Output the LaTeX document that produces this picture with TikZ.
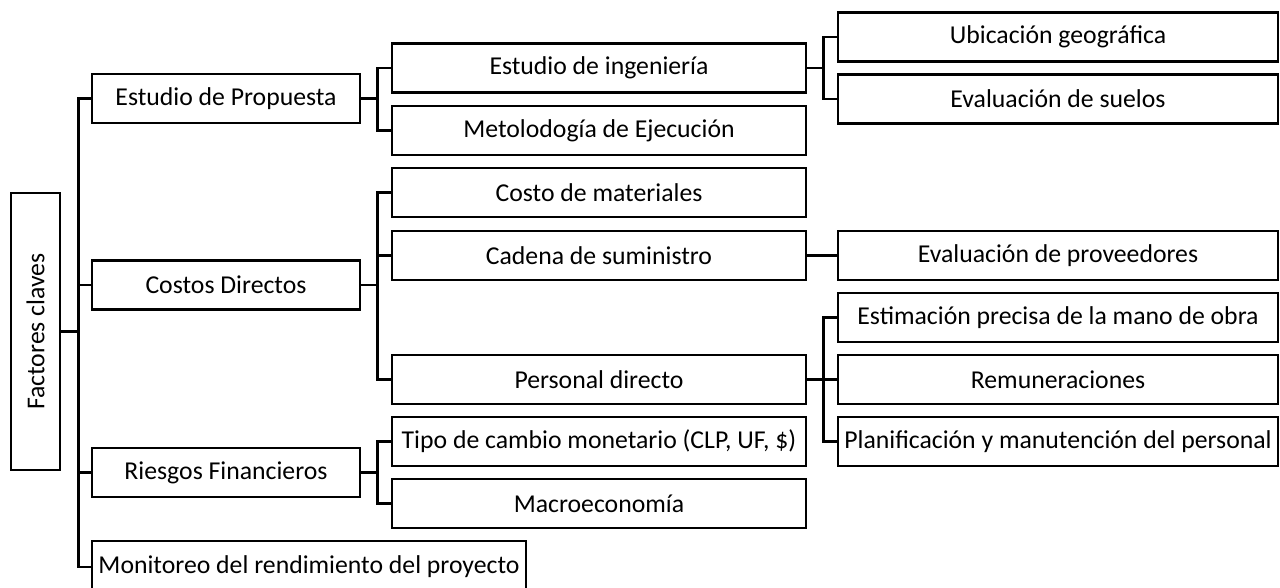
\documentclass[tikz,border=0pt]{standalone}
\usepackage{fontspec}
\setmainfont{Carlito}
\usetikzlibrary{positioning}

\tikzset{
  box/.style={draw, line width=2.1pt, inner sep=0pt, minimum height=36.75pt,
    font=\fontsize{19.3pt}{23pt}\selectfont},
  lvlone/.style={box, minimum width=201pt},
  lvltwo/.style={box, minimum width=310.5pt},
  lvlthree/.style={box, minimum width=330pt},
  link/.style={line width=1.7pt}
}

\begin{document}
\begin{tikzpicture}[x=0.75pt, y=-0.75pt]
    \useasboundingbox (0,0) rectangle (1280,587);

    % Draw root box
    \node[box, rotate=90, minimum width=207.75pt] (root) at (35.5,331.5) {Factores claves};

    % First level
    \foreach \n/\y/\t in {prop/98.5/Estudio de Propuesta, cost/285/Costos Directos, risk/472.5/Riesgos Financieros} {
      \node[lvlone] (\n) at (226,\y) {\t};
    }
    \node[box, minimum width=325.5pt, minimum height=39pt] (mon) at (309,567) {Monitoreo del rendimiento del proyecto};

    % Second level
    \foreach \n/\y/\t in {ing/68/Estudio de ingeniería, met/130.5/Metolodogía de Ejecución,
        mat/192.5/Costo de materiales, cad/255.5/Cadena de suministro, per/379.5/Personal directo,
        tip/441.5/{Tipo de cambio monetario (CLP, UF, \$)}, mac/503.5/Macroeconomía} {
      \node[lvltwo] (\n) at (599,\y) {\t};
    }

    % Third level
    \foreach \n/\y/\t in {ubi/37/Ubicación geográfica, sue/99/Evaluación de suelos,
        prv/255.5/Evaluación de proveedores, est/317.5/Estimación precisa de la mano de obra,
        rem/379.5/Remuneraciones, pla/441.5/Planificación y manutención del personal} {
      \node[lvlthree] (\n) at (1058,\y) {\t};
    }

    % Draw links from root (rotated, so its right side is .south)
    \foreach \c in {prop, cost, risk, mon} {
      \draw[link] (root.south) -- ++(17,0) |- (\c.west);
    }

    % Draw elbow links parent -> child
    \foreach \p/\c in {prop/ing, prop/met, cost/mat, cost/cad, cost/per, risk/tip, risk/mac,
        ing/ubi, ing/sue, cad/prv, per/est, per/rem, per/pla} {
      \draw[link] (\p.east) -- ++(16,0) |- (\c.west);
    }

\end{tikzpicture}
\end{document}
